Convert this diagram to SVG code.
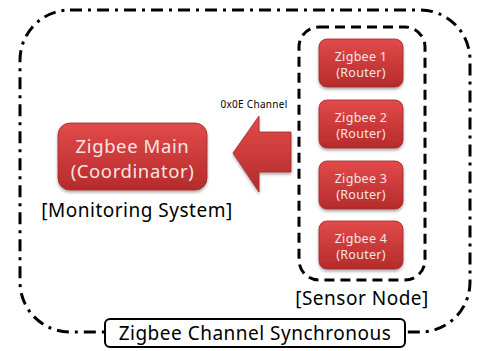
<svg xmlns="http://www.w3.org/2000/svg" width="477" height="351" viewBox="0 0 477 351">
<style>
  .lbl{font-family:"Noto Sans","Open Sans",sans-serif;fill:#000;text-anchor:middle}
  .big{font-size:19px;letter-spacing:0.5px}
  .wt{font-family:"Noto Sans","Open Sans",sans-serif;fill:#f7e4e4;text-anchor:middle}
  .sm{font-size:12.5px;letter-spacing:0.3px}
  .mn{font-size:18.5px;letter-spacing:0.6px}
  .box{fill:url(#rg);stroke:#a02828;stroke-width:0.8;filter:url(#sh)}
</style>
<defs>
  <linearGradient id="rg" x1="0" y1="0" x2="0" y2="1">
    <stop offset="0" stop-color="#e24a4a"/>
    <stop offset="1" stop-color="#b52b2b"/>
  </linearGradient>
  <filter id="sh" x="-20%" y="-20%" width="140%" height="150%">
    <feDropShadow dx="0" dy="2" stdDeviation="1.5" flood-color="#000" flood-opacity="0.35"/>
  </filter>
</defs>
<g id="outer">
  <rect x="20" y="10" width="450" height="322" rx="50" ry="50" fill="none" stroke="#000" stroke-width="3" stroke-dasharray="12 6 3 6"/>
</g>
<g id="sensor-group">
  <rect x="299" y="27" width="126" height="253" rx="20" ry="20" fill="none" stroke="#000" stroke-width="3" stroke-dasharray="10 6"/>
  <text class="lbl big" x="362" y="305">[Sensor Node]</text>
</g>
<g id="main">
  <rect class="box" x="58" y="123" width="149" height="67" rx="12" ry="12"/>
  <text class="wt mn" x="132.5" y="153">Zigbee Main</text>
  <text class="wt mn" x="132.5" y="177.5">(Coordinator)</text>
  <text class="lbl big" x="137" y="217">[Monitoring System]</text>
</g>
<g id="z1">
  <rect class="box" x="319" y="39" width="84" height="48" rx="8" ry="8"/>
  <text class="wt sm" x="361" y="61">Zigbee 1</text>
  <text class="wt sm" x="361" y="77">(Router)</text>
</g>
<g id="z2">
  <rect class="box" x="319" y="100" width="84" height="48" rx="8" ry="8"/>
  <text class="wt sm" x="361" y="122">Zigbee 2</text>
  <text class="wt sm" x="361" y="138">(Router)</text>
</g>
<g id="z3">
  <rect class="box" x="319" y="161" width="84" height="48" rx="8" ry="8"/>
  <text class="wt sm" x="361" y="183">Zigbee 3</text>
  <text class="wt sm" x="361" y="199">(Router)</text>
</g>
<g id="z4">
  <rect class="box" x="319" y="221" width="84" height="48" rx="8" ry="8"/>
  <text class="wt sm" x="361" y="243">Zigbee 4</text>
  <text class="wt sm" x="361" y="259">(Router)</text>
</g>
<g id="connectors">
  <polygon points="233,153 259,116 259,132 291,132 291,172 259,172 259,192" fill="url(#rg)" stroke="#a02828" stroke-width="0.8" filter="url(#sh)"/>
  <text class="lbl" x="254" y="108" font-size="10" letter-spacing="0.3">0x0E Channel</text>
</g>
<g id="title">
  <rect x="105" y="319" width="300" height="28" rx="5" ry="5" fill="#fff" stroke="#000" stroke-width="2"/>
  <text class="lbl big" x="255" y="340">Zigbee Channel Synchronous</text>
</g>
</svg>
